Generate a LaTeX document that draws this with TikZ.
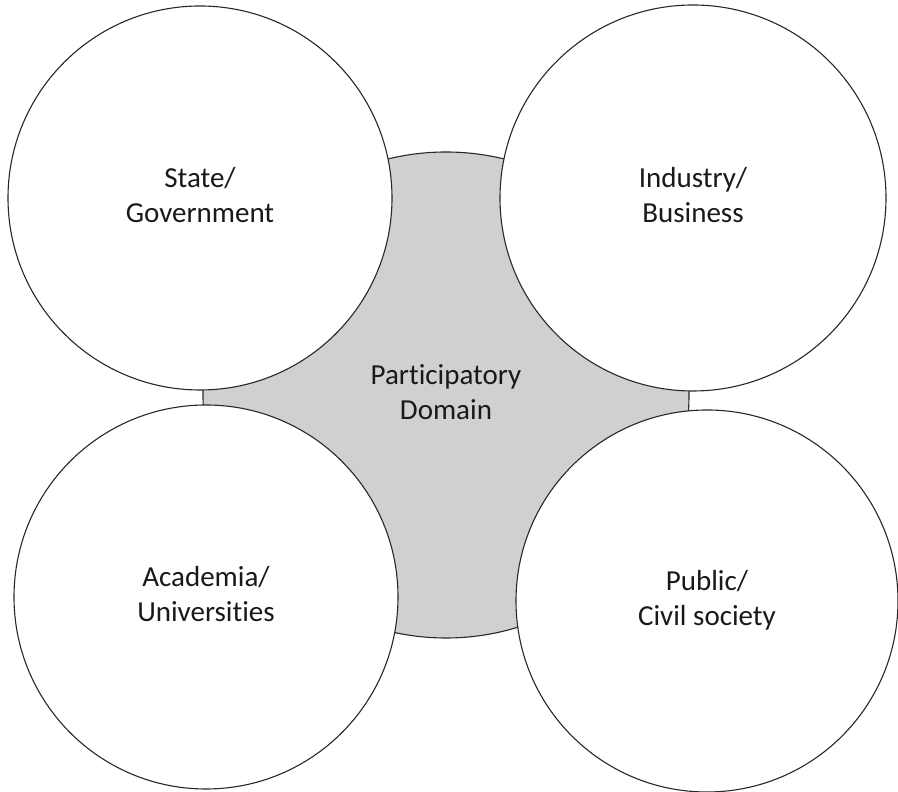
\documentclass[tikz,border=0pt]{standalone}
\usepackage{fontspec}
\setmainfont{Carlito}[Ligatures=NoCommon]
\definecolor{hubgray}{RGB}{208,208,208}
\definecolor{rimgray}{RGB}{40,40,40}
\begin{document}
\begin{tikzpicture}[x=1pt,y=1pt,
  sector/.style={circle, draw=rimgray, line width=1.1pt, fill=white,
    inner sep=0pt, align=center, text=black!90,
    font=\fontsize{29}{35}\selectfont},
  hubdisc/.style={sector, fill=hubgray}]
\useasboundingbox (0,0) rectangle (898,792);
% shared participatory domain behind the four sectors
\node[hubdisc, minimum size=486] (hub) at (446,397)
  {\strut Participatory\\\strut Domain};
% the four sectors
\node[sector, minimum size=384] (state) at (200,594)
  {\strut State/\\\strut Government};
\node[sector, minimum size=386] (industry) at (693,594)
  {\strut Industry/\\\strut Business};
\node[sector, minimum size=384] (academia) at (206,195)
  {\strut Academia/\\\strut Universities};
\node[sector, minimum size=382] (public) at (707,191)
  {\strut Public/\\\strut Civil society};
\end{tikzpicture}
\end{document}
